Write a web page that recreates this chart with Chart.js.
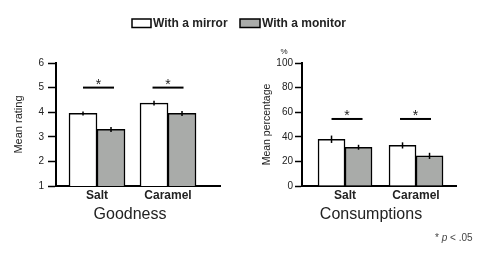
<!DOCTYPE html>
<html><head><meta charset="utf-8">
<script src="https://cdn.jsdelivr.net/npm/chart.js@4.4.0/dist/chart.umd.min.js"></script>
<style>
html,body{margin:0;padding:0;background:#fff;width:490px;height:264px;overflow:hidden}
canvas{position:absolute;left:0;top:0}
</style></head><body>
<canvas id="c1" width="490" height="264"></canvas>
<canvas id="c2" width="490" height="264"></canvas>
<script>
// ---- data ----
const categories = ['Salt', 'Caramel'];
const seriesNames = ['With a mirror', 'With a monitor'];
const goodnessMirror = [3.95, 4.37];
const goodnessMonitor = [3.3, 3.95];
const goodnessMirrorErr = [0.08, 0.1];
const goodnessMonitorErr = [0.1, 0.1];
const goodnessSig = [5, 5];
const consumMirror = [38, 33];
const consumMonitor = [31.5, 24.5];
const consumMirrorErr = [3, 2.5];
const consumMonitorErr = [2, 2.5];
const consumSig = [54.5, 54.5];
const panelTitles = ['Goodness', 'Consumptions'];
const yTitles = ['Mean rating', 'Mean percentage'];

const FONT = '"Liberation Sans", Arial, sans-serif';
const GREY = '#a9aba9';
const TXT = '#222';

function toPoints(arr) { return arr.map((v, i) => ({ x: i + 1, y: v })); }

const annot = {
  id: 'annot',
  afterDatasetsDraw(chart, args, o) {
    const { ctx } = chart;
    const x = chart.scales.x, y = chart.scales.y;
    ctx.save();
    // error bars
    chart.data.datasets.forEach((ds, di) => {
      const meta = chart.getDatasetMeta(di);
      meta.data.forEach((bar, i) => {
        const v = ds.data[i].y, e = ds.err[i];
        ctx.beginPath();
        ctx.strokeStyle = '#000';
        ctx.lineWidth = 1.5;
        ctx.moveTo(bar.x, y.getPixelForValue(v - e));
        ctx.lineTo(bar.x, y.getPixelForValue(v + e));
        ctx.stroke();
      });
    });
    // significance markers
    o.sig.forEach((lvl, i) => {
      const cx = x.getPixelForValue(i + 1) + o.sigShift[i];
      const py = y.getPixelForValue(lvl);
      ctx.beginPath();
      ctx.lineWidth = 2;
      ctx.strokeStyle = '#000';
      ctx.moveTo(cx - 15.5, py);
      ctx.lineTo(cx + 15.5, py);
      ctx.stroke();
      ctx.fillStyle = TXT;
      ctx.font = '14px ' + FONT;
      ctx.textAlign = 'center';
      ctx.textBaseline = 'alphabetic';
      ctx.fillText('*', cx, py + 1.5);
    });
    // panel title
    ctx.fillStyle = TXT;
    ctx.font = '16px ' + FONT;
    ctx.textAlign = 'center';
    ctx.textBaseline = 'alphabetic';
    ctx.fillText(o.title, o.titleX, 219);
    if (o.extra) o.extra(ctx);
    ctx.restore();
  }
};

function legendDraw(ctx) {
  ctx.lineWidth = 1.5;
  ctx.strokeStyle = '#000';
  ctx.fillStyle = '#fff';
  ctx.fillRect(132, 19, 19, 8.5); ctx.strokeRect(132, 19, 19, 8.5);
  ctx.fillStyle = GREY;
  ctx.fillRect(240, 19, 20, 8.5); ctx.strokeRect(240, 19, 20, 8.5);
  ctx.fillStyle = TXT;
  ctx.font = 'bold 12px ' + FONT;
  ctx.textAlign = 'left';
  ctx.textBaseline = 'middle';
  ctx.fillText(seriesNames[0], 153, 23.5);
  ctx.fillText(seriesNames[1], 262, 23.5);
}

function rightExtra(ctx) {
  ctx.fillStyle = TXT;
  ctx.font = '8px ' + FONT;
  ctx.textAlign = 'center';
  ctx.textBaseline = 'middle';
  ctx.fillText('%', 284, 52);
  // footnote
  ctx.fillStyle = '#444';
  ctx.textAlign = 'left';
  ctx.textBaseline = 'middle';
  let xx = 435;
  ctx.font = '10px ' + FONT;
  ctx.fillText('* ', xx, 238); xx += ctx.measureText('* ').width;
  ctx.font = 'italic 10px ' + FONT;
  ctx.fillText('p', xx, 238); xx += ctx.measureText('p').width;
  ctx.font = '10px ' + FONT;
  ctx.fillText(' < .05', xx, 238);
}

function makeChart(id, cfg) {
  return new Chart(document.getElementById(id), {
    type: 'bar',
    data: {
      datasets: [
        { label: seriesNames[0], data: toPoints(cfg.a), err: cfg.ae, backgroundColor: '#fff', borderColor: '#000', borderWidth: 1.5, barThickness: cfg.bw },
        { label: seriesNames[1], data: toPoints(cfg.b), err: cfg.be, backgroundColor: GREY, borderColor: '#000', borderWidth: 1.5, barThickness: cfg.bw }
      ]
    },
    plugins: [annot],
    options: {
      responsive: false,
      animation: false,
      devicePixelRatio: 1,
      layout: { padding: cfg.pad },
      plugins: {
        legend: { display: false },
        tooltip: { enabled: false },
        annot: { sig: cfg.sig, sigShift: cfg.sigShift, title: cfg.title, titleX: cfg.titleX, extra: cfg.extra }
      },
      scales: {
        x: {
          type: 'linear',
          offset: false,
          min: cfg.xmin, max: cfg.xmax,
          afterBuildTicks: s => { s.ticks = [{ value: 1 }, { value: 2 }]; },
          afterFit: s => { s.height = 78; },
          ticks: { callback: v => categories[v - 1], color: TXT, font: { family: FONT, size: 12, weight: 'bold' }, padding: -6, maxRotation: 0, autoSkip: false },
          grid: { display: false, offset: false },
          border: { display: true, color: '#000', width: 2 }
        },
        y: {
          min: cfg.ymin, max: cfg.ymax,
          afterFit: s => { s.width = 56; },
          ticks: { stepSize: cfg.step, color: TXT, font: { family: FONT, size: 10 }, padding: cfg.tickPad },
          grid: { drawOnChartArea: false, tickLength: cfg.tickLen, color: '#000', tickWidth: 1.5 },
          border: { display: true, color: '#000', width: 2 },
          title: { display: true, text: cfg.ytitle, color: TXT, font: { family: FONT, size: cfg.ytSize }, padding: { top: cfg.ytPad, bottom: 0 } }
        }
      }
    }
  });
}

makeChart('c1', {
  a: goodnessMirror, b: goodnessMonitor, ae: goodnessMirrorErr, be: goodnessMonitorErr,
  sig: goodnessSig, sigShift: [1.5, 0], title: panelTitles[0], titleX: 130,
  xmin: 0.4225, xmax: 2.732, ymin: 1, ymax: 6, step: 1, bw: 28,
  pad: { left: 0, top: 63, right: 270, bottom: 0 },
  tickLen: 8, tickPad: 4, ytitle: yTitles[0], ytSize: 11, ytPad: 12.4,
  extra: legendDraw
});

makeChart('c2', {
  a: consumMirror, b: consumMonitor, ae: consumMirrorErr, be: consumMonitorErr,
  sig: consumSig, sigShift: [2, -0.5], title: panelTitles[1], titleX: 371,
  xmin: 0.394, xmax: 2.563, ymin: 0, ymax: 100, step: 20, bw: 27,
  pad: { left: 246, top: 63, right: 34, bottom: 0 },
  tickLen: 7, tickPad: 2, ytitle: yTitles[1], ytSize: 10.5, ytPad: 14.7,
  extra: rightExtra
});
</script>
</body></html>
